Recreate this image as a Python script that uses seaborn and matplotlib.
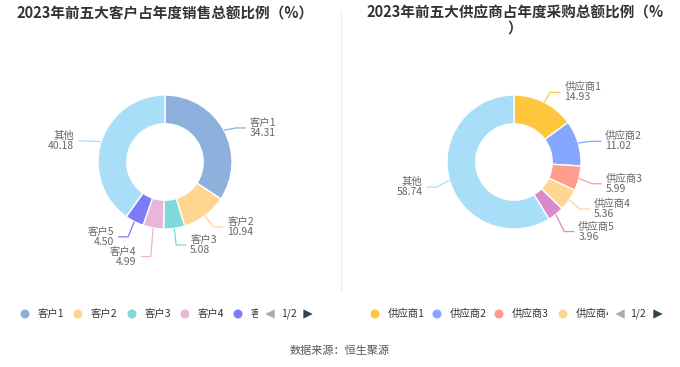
import numpy as np
import matplotlib
matplotlib.use("Agg")
import matplotlib.pyplot as plt
from matplotlib.transforms import Bbox
import seaborn as sns

sns.set_theme(style="white")
plt.rcParams["font.family"] = ["Noto Sans CJK SC", "DejaVu Sans"]

# data
cust_names = ["客户1", "客户2", "客户3", "客户4", "客户5", "其他"]
cust_vals = [34.31, 10.94, 5.08, 4.99, 4.50, 40.18]
cust_colors = ["#8eb0dd", "#ffd591", "#7fd9d9", "#e9b6d9", "#7b7cf6", "#a9def9"]

sup_names = ["供应商1", "供应商2", "供应商3", "供应商4", "供应商5", "其他"]
sup_vals = [14.93, 11.02, 5.99, 5.36, 3.96, 58.74]
sup_colors = ["#ffc53d", "#85a5ff", "#ff9c8e", "#ffd591", "#d98acb", "#a9def9"]

titles = ["2023年前五大客户占年度销售总额比例（%）",
          "2023年前五大供应商占年度采购总额比例（%\n）"]

W, H = 680, 367
fig = plt.figure(figsize=(6.8, 3.67), dpi=100)

R_PX = 67
BOX = 280


def donut(cx, cy, names, vals, colors, dys):
    ax = fig.add_axes([(cx - BOX / 2) / W, 1 - (cy + BOX / 2) / H, BOX / W, BOX / H])
    lim = BOX / 2 / R_PX
    ax.pie(vals, colors=colors, startangle=90, counterclock=False, radius=1,
           wedgeprops=dict(width=0.43, edgecolor="white", linewidth=1))
    ax.set_xlim(-lim, lim)
    ax.set_ylim(-lim, lim)
    ax.set_aspect("equal")
    ax.axis("off")
    total = sum(vals)
    start = 90.0
    for name, v, c, dy in zip(names, vals, colors, dys):
        span = v / total * 360
        mid = np.deg2rad(start - span / 2)
        start -= span
        x0, y0 = np.cos(mid) * 1.0, np.sin(mid) * 1.0
        x1, y1 = np.cos(mid) * 1.2, np.sin(mid) * 1.2 + dy
        side = 1 if np.cos(mid) >= 0 else -1
        x2 = x1 + side * 0.15
        ax.plot([x0, x1, x2], [y0, y1, y1], color=c, lw=0.9, solid_capstyle="butt")
        ax.text(x2 + side * 0.06, y1, f"{name}\n{v:.2f}", ha="left" if side > 0 else "right",
                va="center", fontsize=7.5, color="#666666", linespacing=1.0,
                multialignment="left" if side > 0 else "right")
    return ax


donut(165, 162, cust_names, cust_vals, cust_colors, [-0.06, -0.01, -0.05, -0.23, -0.05, -0.05])
donut(514, 162, sup_names, sup_vals, sup_colors, [-0.03, -0.03, -0.03, -0.02, -0.1, -0.05])

ov = fig.add_axes([0, 0, 1, 1], facecolor="none")
ov.set_xlim(0, W)
ov.set_ylim(H, 0)
ov.axis("off")

ov.text(165, 13, titles[0], ha="center", va="center", fontsize=10.5,
        fontweight="bold", color="#333333")
ov.text(515, 20, titles[1], ha="center", va="center", fontsize=10.5,
        fontweight="bold", color="#333333", linespacing=0.95)
ov.plot([341, 341], [10, 290], color="#eeeeee", lw=1)


def clipped(x, y, s, xmax):
    t = ov.text(x, y, s, ha="left", va="center", fontsize=7.5, color="#333333")
    t.set_clip_on(True)
    t.set_clip_box(Bbox([[0, 0], [xmax, H]]))


# legends (truncated like a paged legend)
leg_left = [(25, 0), (78, 1), (132, 2), (185, 3), (238, 4)]
for x, i in leg_left:
    ov.scatter([x], [314], s=42, color=cust_colors[i], edgecolor="none")
    clipped(x + 13, 314, cust_names[i], 258)
leg_right = [(375, 0), (437, 1), (499, 2), (563, 3)]
for x, i in leg_right:
    ov.scatter([x], [314], s=42, color=sup_colors[i], edgecolor="none")
    clipped(x + 13, 314, sup_names[i], 608)

for xa, xt, xb in [(270, 289, 308), (620, 638, 658)]:
    ov.scatter([xa], [314], marker="<", s=45, color="#aaaaaa", edgecolor="none")
    ov.text(xt, 314, "1/2", ha="center", va="center", fontsize=7.5, color="#333333")
    ov.scatter([xb], [314], marker=">", s=45, color="#2f4554", edgecolor="none")

ov.text(340, 351, "数据来源：恒生聚源", ha="center", va="center", fontsize=8, color="#555555")

fig.savefig("out.png", dpi=100)
